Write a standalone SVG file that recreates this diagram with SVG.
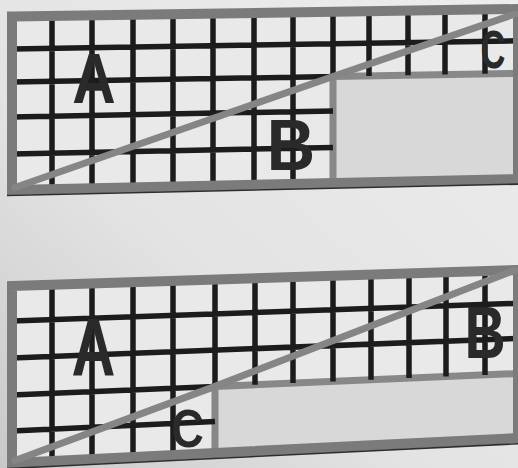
<svg xmlns="http://www.w3.org/2000/svg" width="518" height="468" viewBox="0 0 518 468">
  <defs>
    <linearGradient id="bg" x1="1" y1="0" x2="0" y2="1">
      <stop offset="0" stop-color="#ededed"/>
      <stop offset="0.6" stop-color="#e3e3e3"/>
      <stop offset="1" stop-color="#c9c9c9"/>
    </linearGradient>
    <style>
      .cell{fill:#e9e9e9}
      .grid{fill:none;stroke:#1c1c1c;stroke-width:5.5;stroke-linecap:butt}
      .box{fill:#d8d8d8;stroke:#888;stroke-width:7;stroke-linejoin:miter}
      .frame{fill:none;stroke:#7b7b7b;stroke-width:10;stroke-linejoin:miter}
      .shadow{fill:none;stroke:#2e2e2e;stroke-width:1.6}
      .diag{fill:none;stroke:#858585;stroke-width:7;stroke-linecap:round;stroke-linejoin:round}
      .lbl{font-family:"Liberation Sans",Arial,sans-serif;font-weight:bold;fill:#2a2a2a;text-anchor:middle}
    </style>
  </defs>
  <rect width="518" height="468" fill="url(#bg)"/>

  <g id="panel-top">
    <polygon class="cell" points="12,16.5 518,9 518,179 12,190"/>
    <polygon id="top-rect" class="box" points="333,76.5 518,73.3 518,179 333,183"/>
    <path class="grid" d="M52,15.9V189.1 M92,15.3V188.3 M133,14.7V187.4 M173,14.1V186.5 M213,13.5V185.6 M254,12.9V184.7 M293,12.3V183.9 M333,11.7V76.5 M369,11.2V75.9 M408,10.6V75.2 M445,10.1V74.5 M485,9.5V73.8 M12,48.9L518,40.8 M12,82.1L333,76.5 M12,117L333,110.9 M12,153.9L333,147.4"/>
    <polygon class="frame" points="12,16.5 518,9 518,179 12,190"/>
    <path class="shadow" d="M7,195.5L523,184"/>
    <polyline class="diag" points="15,187.5 333,76.5 515,14"/>
    <text class="lbl" font-size="70" transform="translate(94,103) scale(0.86,1)">A</text>
    <text class="lbl" font-size="72" transform="translate(291,170) scale(0.93,1)">B</text>
    <text class="lbl" font-size="53" transform="translate(493,68) scale(0.65,1)">C</text>
  </g>

  <g id="panel-bottom">
    <polygon class="cell" points="12,286 518,270 518,438 12,463"/>
    <polygon id="bottom-rect" class="box" points="215,386.4 518,373.5 518,438 215,453"/>
    <path class="grid" d="M52,284.7V461 M92,283.5V459 M133,282.2V457 M173,280.9V455 M215,279.6V386.4 M255,278.3V384.7 M293,277.1V383.1 M333,275.9V381.4 M371,274.7V379.8 M409,273.5V378.1 M446,272.3V376.6 M485,271V374.9 M12,321L518,303.3 M12,358L518,338.4 M12,395L215,386.4 M12,431L215,421.6"/>
    <polygon class="frame" points="12,286 518,270 518,438 12,463"/>
    <path class="shadow" d="M7,468.5L523,443.5"/>
    <polyline class="diag" points="15,460.5 215,386.4 515,270"/>
    <text class="lbl" font-size="81" transform="translate(93.5,375) scale(0.75,1)">A</text>
    <text class="lbl" font-size="74" transform="translate(485,358) scale(0.77,1)">B</text>
    <text class="lbl" font-size="53" transform="translate(187.5,447) scale(0.85,1)">C</text>
  </g>
</svg>
